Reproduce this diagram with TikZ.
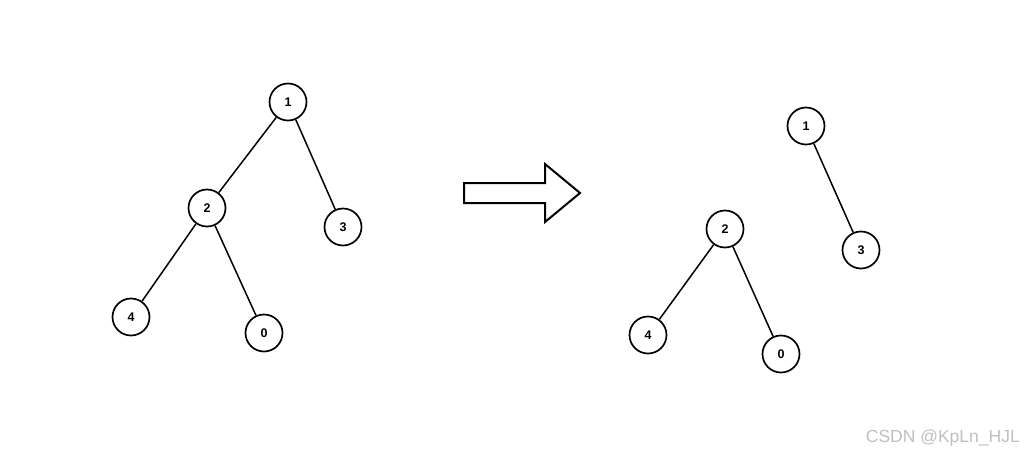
\documentclass[tikz,border=0pt]{standalone}
\usepackage{fontspec}
\setmainfont{Liberation Sans}
\begin{document}
\begin{tikzpicture}[x=1pt,y=-1pt,
  vtx/.style={circle,draw,line width=1.7pt,minimum size=37pt,inner sep=0pt,font=\fontsize{12.5}{12.5}\selectfont\bfseries},
  edge/.style={line width=1.5pt},
  bigarrow/.style={line width=2pt,line join=miter}]
\useasboundingbox (0,0) rectangle (1024,453);
% left tree
\node[vtx] (L1) at (288,102) {1};
\node[vtx] (L2) at (207,208) {2};
\node[vtx] (L3) at (343,227) {3};
\node[vtx] (L4) at (131,317) {4};
\node[vtx] (L0) at (264,333) {0};
\draw[edge] (L1) -- (L2);
\draw[edge] (L1) -- (L3);
\draw[edge] (L2) -- (L4);
\draw[edge] (L2) -- (L0);
% arrow
\draw[bigarrow] (464,183) -- (545,183) -- (545,164) -- (580,193) -- (545,222) -- (545,203) -- (464,203) -- cycle;
% right tree
\node[vtx] (R1) at (806,126) {1};
\node[vtx] (R3) at (861,250) {3};
\node[vtx] (R2) at (725,229) {2};
\node[vtx] (R4) at (648,335) {4};
\node[vtx] (R0) at (781,354) {0};
\draw[edge] (R1) -- (R3);
\draw[edge] (R2) -- (R4);
\draw[edge] (R2) -- (R0);
% watermark
\node[anchor=base east,text=black!25,font=\fontsize{17.5}{18}\selectfont,inner sep=0pt] (wm) at (1020,442) {CSDN @KpLn\_HJL};
\end{tikzpicture}
\end{document}
